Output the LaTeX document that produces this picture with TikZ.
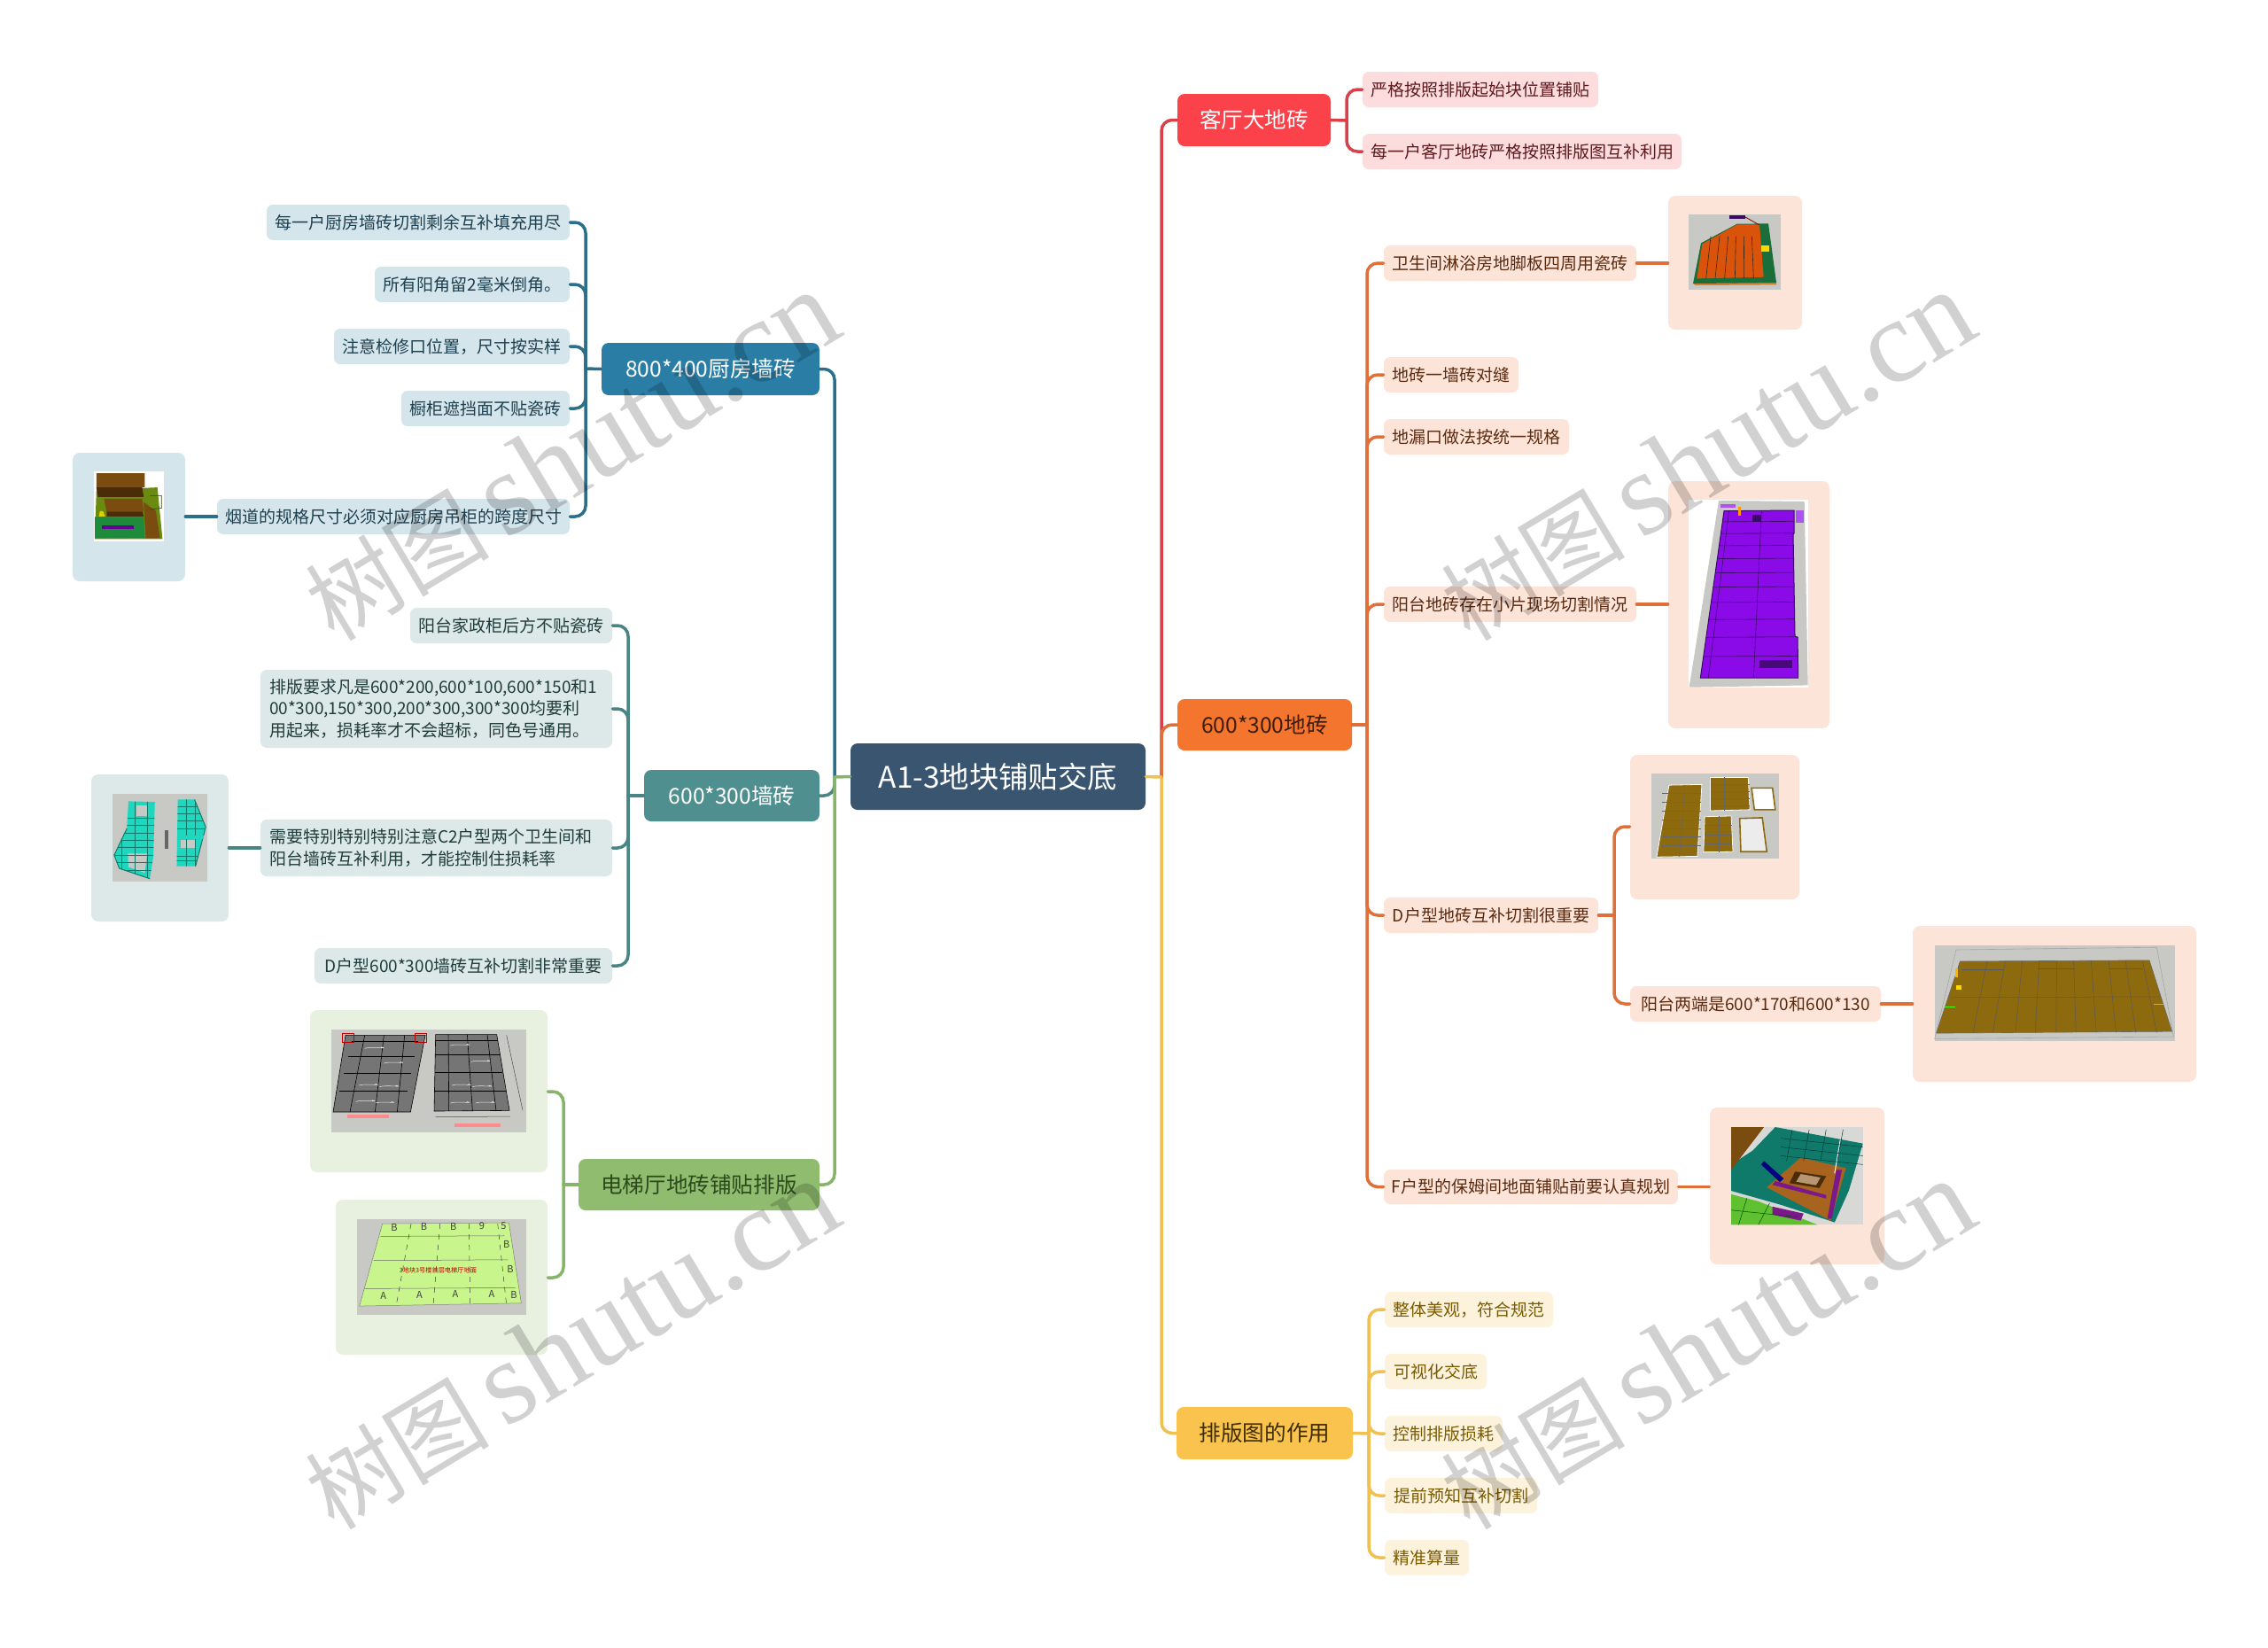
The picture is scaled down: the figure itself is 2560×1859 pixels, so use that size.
\documentclass[tikz,border=0pt]{standalone}
\usepackage{fontspec}
\setmainfont{Noto Sans CJK SC}
\newfontfamily\wmlatin{Liberation Serif}
\usetikzlibrary{calc}
\definecolor{rootc}{HTML}{3A5570}
\definecolor{kA}{HTML}{2A7EA6}\definecolor{kL}{HTML}{D5E5EC}\definecolor{kD}{HTML}{2B6F8A}\definecolor{kT}{HTML}{1D3F4E}
\definecolor{wA}{HTML}{4F8F8F}\definecolor{wL}{HTML}{DDE9E8}\definecolor{wD}{HTML}{4A8585}\definecolor{wT}{HTML}{1F3B3B}
\definecolor{eA}{HTML}{8FBC6F}\definecolor{eL}{HTML}{E8F0E0}\definecolor{eD}{HTML}{86B56A}\definecolor{eT}{HTML}{2C4A1C}
\definecolor{rA}{HTML}{FB4149}\definecolor{rL}{HTML}{FCDCDD}\definecolor{rD}{HTML}{D9414A}\definecolor{rT}{HTML}{5C1A1D}
\definecolor{oA}{HTML}{F4752E}\definecolor{oL}{HTML}{FDE4D8}\definecolor{oD}{HTML}{E0703A}\definecolor{oT}{HTML}{5A2A10}
\definecolor{yA}{HTML}{F9C34E}\definecolor{yL}{HTML}{FDF3DC}\definecolor{yD}{HTML}{F0C050}\definecolor{yT}{HTML}{7A5A00}
\definecolor{imgrey}{HTML}{C8C9C5}
\definecolor{tileB}{HTML}{8E6A0E}
\definecolor{tealB}{HTML}{1FD6BE}
\definecolor{tealD}{HTML}{0F7A6A}
\definecolor{purp}{HTML}{8A0AE8}
\definecolor{purpD}{HTML}{3C0A66}
\definecolor{shO}{HTML}{D9540A}
\definecolor{shG}{HTML}{1A6E3A}
\definecolor{flG}{HTML}{C8F58C}
\definecolor{marb}{HTML}{757575}
\definecolor{kBr}{HTML}{7A4C10}
\definecolor{kDk}{HTML}{4A2C08}
\definecolor{kOl}{HTML}{6A8A10}
\definecolor{kGr}{HTML}{1E8A3C}
\definecolor{rmO}{HTML}{A8641E}
\definecolor{rmP}{HTML}{7A1A8A}
\definecolor{rmG}{HTML}{5FC030}
\tikzset{
 x=0.5pt,y=-0.5pt,
 boxbase/.style={rectangle,rounded corners=4pt,inner sep=0pt,align=center},
 rootbox/.style={boxbase,fill=rootc,text=white,font=\fontsize{16.7}{20}\selectfont},
 mainbox/.style={boxbase,font=\fontsize{12.3}{15}\selectfont},
 leaf/.style={boxbase,rounded corners=3.5pt,font=\fontsize{9.5}{12.2}\selectfont},
 imgbox/.style={boxbase,rounded corners=4pt},
 conn/.style={line width=1.75pt,rounded corners=6pt,line cap=round},
 wm/.style={text=black,opacity=0.18,rotate=31,inner sep=0pt},
 zoomA/.style={x=0.287pt,y=-0.1667pt},
 zoomB/.style={x=0.1667pt,y=-0.1667pt},
 zoomC/.style={x=0.3189pt,y=-0.1977pt},
}
% placing a box from its left, top, right, bottom pixel edges
\newcommand{\bx}[6]{\node[#1,minimum width=(#5-#3)*0.5pt,minimum height=(#6-#4)*0.5pt] (#2) at ({(#3+#5)/2},{(#4+#6)/2})}
\begin{document}
\begin{tikzpicture}
\useasboundingbox (0,0) rectangle (2560,1859);
\fill[white] (0,0) rectangle (2560,1859);
% ---------- root and main topics
\bx{rootbox}{root}{960}{839}{1293}{914} {A1-3地块铺贴交底};
\bx{mainbox,fill=kA,text=white}{k}{679}{387}{925}{446} {800*400厨房墙砖};
\bx{mainbox,fill=wA,text=white}{w}{727}{869}{925}{927} {600*300墙砖};
\bx{mainbox,fill=eA,text=eT}{e}{653}{1308}{925}{1366} {电梯厅地砖铺贴排版};
\bx{mainbox,fill=rA,text=white}{r}{1329}{106}{1502}{165} {客厅大地砖};
\bx{mainbox,fill=oA,text=oT!70!black}{o}{1329}{789}{1526}{847} {600*300地砖};
\bx{mainbox,fill=yA,text=yT!50!black}{y}{1328}{1588}{1527}{1647} {排版图的作用};
% ---------- kitchen leaves
\bx{leaf,fill=kL,text=kT}{k1}{301}{231}{643}{271} {每一户厨房墙砖切割剩余互补填充用尽};
\bx{leaf,fill=kL,text=kT}{k2}{423}{301}{643}{341} {所有阳角留2毫米倒角。};
\bx{leaf,fill=kL,text=kT}{k3}{377}{371}{643}{411} {注意检修口位置，尺寸按实样};
\bx{leaf,fill=kL,text=kT}{k4}{453}{441}{643}{481} {橱柜遮挡面不贴瓷砖};
\bx{leaf,fill=kL,text=kT}{k5}{245}{563}{643}{603} {烟道的规格尺寸必须对应厨房吊柜的跨度尺寸};
\bx{imgbox,fill=kL}{ki}{82}{511}{209}{656} {};
% ---------- wall leaves
\bx{leaf,fill=wL,text=wT}{w1}{463}{686}{691}{726} {阳台家政柜后方不贴瓷砖};
\bx{leaf,fill=wL,text=wT,align=left,text width=188.5pt}{w2}{294}{756}{691}{844} {排版要求凡是600*200,600*100,600*150和1\\00*300,150*300,200*300,300*300均要利\\用起来，损耗率才不会超标，同色号通用。};
\bx{leaf,fill=wL,text=wT,align=left,text width=188.5pt}{w3}{294}{925}{691}{989} {需要特别特别特别注意C2户型两个卫生间和\\阳台墙砖互补利用，才能控制住损耗率};
\bx{leaf,fill=wL,text=wT}{w4}{355}{1070}{691}{1110} {D户型600*300墙砖互补切割非常重要};
\bx{imgbox,fill=wL}{wi}{103}{874}{258}{1040} {};
% ---------- elevator images
\bx{imgbox,fill=eL}{e1}{350}{1140}{618}{1323} {};
\bx{imgbox,fill=eL}{e2}{379}{1354}{618}{1529} {};
% ---------- living room leaves
\bx{leaf,fill=rL,text=rT}{r1}{1538}{81}{1804}{121} {严格按照排版起始块位置铺贴};
\bx{leaf,fill=rL,text=rT}{r2}{1538}{151}{1898}{191} {每一户客厅地砖严格按照排版图互补利用};
% ---------- floor leaves
\bx{leaf,fill=oL,text=oT}{o1}{1562}{277}{1847}{317} {卫生间淋浴房地脚板四周用瓷砖};
\bx{leaf,fill=oL,text=oT}{o2}{1562}{403}{1714}{443} {地砖一墙砖对缝};
\bx{leaf,fill=oL,text=oT}{o3}{1562}{473}{1771}{513} {地漏口做法按统一规格};
\bx{leaf,fill=oL,text=oT}{o4}{1562}{662}{1847}{702} {阳台地砖存在小片现场切割情况};
\bx{leaf,fill=oL,text=oT}{o5}{1562}{1013}{1804}{1053} {D户型地砖互补切割很重要};
\bx{leaf,fill=oL,text=oT}{o6}{1840}{1113}{2123}{1153} {阳台两端是600*170和600*130};
\bx{leaf,fill=oL,text=oT}{o7}{1562}{1320}{1894}{1359} {F户型的保姆间地面铺贴前要认真规划};
\bx{imgbox,fill=oL}{oi1}{1883}{221}{2034}{372} {};
\bx{imgbox,fill=oL}{oi4}{1883}{543}{2065}{822} {};
\bx{imgbox,fill=oL}{oi5}{1840}{852}{2031}{1015} {};
\bx{imgbox,fill=oL}{oi6}{2159}{1045}{2479}{1221} {};
\bx{imgbox,fill=oL}{oi7}{1930}{1250}{2127}{1427} {};
% ---------- layout leaves
\bx{leaf,fill=yL,text=yT}{y1}{1563}{1458}{1753}{1498} {整体美观，符合规范};
\bx{leaf,fill=yL,text=yT}{y2}{1563}{1528}{1678}{1568} {可视化交底};
\bx{leaf,fill=yL,text=yT}{y3}{1563}{1598}{1696}{1638} {控制排版损耗};
\bx{leaf,fill=yL,text=yT}{y4}{1563}{1668}{1735}{1708} {提前预知互补切割};
\bx{leaf,fill=yL,text=yT}{y5}{1563}{1738}{1658}{1778} {精准算量};
% ---------- bus points
\coordinate (tl) at (942,877);
\coordinate (tr) at (1311,877);
\coordinate (bk) at (661,416);
\coordinate (bw) at (709,898);
\coordinate (be) at (636,1337);
\coordinate (br) at (1520,136);
\coordinate (bo) at (1543,818);
\coordinate (by) at (1545,1618);
\coordinate (bo5) at (1822,1033);
% ---------- connectors
\draw[conn,wD] (w.east) -| (tl);
\draw[conn,kD] (k.east) -| (tl);
\draw[conn,eD] (e.east) -| (tl);
\draw[conn,eD] (root.west) -- (tl);
\draw[conn,rD] (r.west) -| (tr);
\draw[conn,yD] (y.west) -| (tr);
\draw[conn,oD] (o.west) -| (tr);
\draw[conn,yD] (root.east) -- (tr);
\foreach \n in {k1,k2,k3,k4,k5} \draw[conn,kD] (\n.east) -| (bk);
\draw[conn,kD] (k.west) -- (bk);
\draw[conn,kD] (k5.west) -- (ki.east |- k5.west);
\foreach \n in {w1,w2,w3,w4} \draw[conn,wD] (\n.east) -| (bw);
\draw[conn,wD] (w.west) -- (bw);
\draw[conn,wD] (w3.west) -- (wi.east |- w3.west);
\draw[conn,eD] (e1.east |- 0,1232) -| (be);
\draw[conn,eD] (e2.east |- 0,1442) -| (be);
\draw[conn,eD] (e.west) -- (be);
\foreach \n in {r1,r2} \draw[conn,rD] (\n.west) -| (br);
\draw[conn,rD] (r.east) -- (br);
\foreach \n in {o1,o2,o3,o4,o5,o7} \draw[conn,oD] (\n.west) -| (bo);
\draw[conn,oD] (o.east) -- (bo);
\draw[conn,oD] (o1.east) -- (oi1.west |- o1.east);
\draw[conn,oD] (o4.east) -- (oi4.west |- o4.east);
\draw[conn,oD] (o7.east) -- (oi7.west |- o7.east);
\draw[conn,oD] (o6.east) -- (oi6.west |- o6.east);
\draw[conn,oD] (o5.east) -- (bo5);
\draw[conn,oD] (oi5.west |- 0,933) -| (bo5);
\draw[conn,oD] (o6.west) -| (bo5);
\foreach \n in {y1,y2,y3,y4,y5} \draw[conn,yD] (\n.west) -| (by);
\draw[conn,yD] (y.east) -- (by);
% ---------- picture A: kitchen model (zoom 1 units)
\begin{scope}[shift={(60,200)},zoomA]
 \fill[white] (80,995) rectangle (217,1232);
 \fill[kOl] (85,1060) -- (205,1050) -- (215,1225) -- (82,1225) -- cycle;
 \fill[kBr] (85,1002) -- (180,1002) -- (180,1050) -- (85,1052) -- cycle;
 \fill[kDk] (85,1050) -- (175,1050) -- (178,1082) -- (88,1082) -- cycle;
 \fill[kBr] (100,1088) -- (175,1088) -- (178,1132) -- (105,1132) -- cycle;
 \fill[kDk] (105,1132) -- (176,1132) -- (178,1148) -- (105,1148) -- cycle;
 \fill[kGr] (82,1150) -- (178,1150) -- (180,1220) -- (82,1222) -- cycle;
 \fill[kBr] (178,1100) -- (202,1130) -- (210,1222) -- (182,1222) -- cycle;
 \fill[yellow!70!olive] (92,1130) -- (98,1130) -- (102,1148) -- (90,1148) -- cycle;
 \fill[blue!60!red] (95,1180) rectangle (158,1192);
 \draw[kOl!50!black,line width=.3pt] (190,1078) -- (213,1078) -- (213,1120) -- (190,1125);
\end{scope}
% ---------- picture B: teal walls (zoom 2 units)
\begin{scope}[shift={(60,670)},zoomA]
 \fill[imgrey] (117,678) rectangle (303,975);
 \fill[tealB] (148,703) -- (200,705) -- (197,890) -- (190,965) -- (130,930) -- (120,885) -- (145,795) -- cycle;
 \fill[tealB] (245,697) -- (278,697) -- (300,790) -- (280,923) -- (243,923) -- cycle;
 \fill[imgrey] (163,718) rectangle (187,752);
 \fill[imgrey] (147,880) -- (185,880) -- (180,945) -- (148,925) -- cycle;
 \fill[imgrey] (250,835) rectangle (278,862);
 \begin{scope}
  \clip (148,703) -- (200,705) -- (197,890) -- (190,965) -- (130,930) -- (120,885) -- (145,795) -- cycle;
  \foreach \yy in {760,785,810,835,860,885,910,935} \draw[tealD,line width=.25pt] (110,\yy) -- (210,\yy);
  \foreach \xx in {135,160,185} \draw[tealD,line width=.25pt] (\xx,700) -- (\xx,970);
 \end{scope}
 \begin{scope}
  \clip (245,697) -- (278,697) -- (300,790) -- (280,923) -- (243,923) -- cycle;
  \foreach \yy in {720,745,770,795,890,905} \draw[tealD,line width=.25pt] (240,\yy) -- (305,\yy);
  \foreach \xx in {262,280} \draw[tealD,line width=.25pt] (\xx,690) -- (\xx,930);
 \end{scope}
 \draw[tealD,line width=.5pt] (278,697) -- (300,790) -- (280,923);
 \draw[tealD,line width=.5pt] (145,795) -- (120,885) -- (130,930) -- (190,965);
 \fill[tealB] (250,820) rectangle (297,832);
 \fill[black!60] (219,800) rectangle (227,865);
\end{scope}
% ---------- picture C: shower room (zoom 6 units)
\begin{scope}[shift={(1880,220)},zoomB]
 \fill[imgrey] (79,67) rectangle (390,320);
 \fill[brown!70!orange] (95,300) -- (375,295) -- (375,304) -- (100,306) -- cycle;
 \fill[shG] (120,163) -- (242,98) -- (348,97) -- (375,297) -- (93,300) -- cycle;
 \fill[shO] (124,166) -- (243,100) -- (318,100) -- (332,278) -- (106,283) -- cycle;
 \foreach \a/\b in {153/137,183/168,212/200,238/235,265/266,292/298} \draw[black!70!brown,line width=.3pt] (\a,140) -- (\b,282);
 \fill[yellow!75!orange] (325,170) rectangle (352,192);
 \fill[purpD] (217,70) rectangle (270,81);
 \draw[red!50!black,line width=.4pt] (270,75) -- (318,102);
\end{scope}
% ---------- picture D: balcony purple (zoom 7 units)
\begin{scope}[shift={(1880,540)},zoomB]
 \fill[white] (79,72) rectangle (482,707);
 \fill[imgrey] (180,75) -- (470,78) -- (482,700) -- (80,707) -- cycle;
 \path[fill=purp,draw=purpD,line width=.5pt] (198,110) -- (435,108) -- (435,185) -- (432,190) -- (438,535) -- (447,537) -- (449,675) -- (118,675) -- cycle;
 \begin{scope}
  \clip (198,110) -- (435,108) -- (435,185) -- (432,190) -- (438,535) -- (447,537) -- (449,675) -- (118,675) -- cycle;
  \foreach \yy in {147,187,228,272,320,368,420,478,538,603} \draw[purpD,line width=.3pt] (100,\yy) -- (460,\yy-2);
  \draw[purpD,line width=.3pt] (325,108) -- (298,675);
  \draw[purpD,line width=.3pt] (215,108) -- (145,675);
 \end{scope}
 \fill[orange!80!yellow] (246,95) rectangle (256,125);
 \fill[purpD] (295,124) rectangle (325,147);
 \fill[purpD!85!purp] (318,615) rectangle (430,642);
 \fill[purp!70!white] (186,88) rectangle (236,100);
 \fill[purp!70!white] (442,108) rectangle (468,150);
\end{scope}
% ---------- picture E: four brown floors (zoom 4 units)
\begin{scope}[shift={(1500,830)},zoomC]
 \fill[imgrey] (571,109) rectangle (797,352);
 \tikzset{bt/.style={fill=tileB,draw=white,line width=.4pt}}
 \path[bt] (602,142) -- (660,140) -- (652,345) -- (580,347) -- cycle;
 \path[bt] (675,120) -- (742,120) -- (745,212) -- (675,215) -- cycle;
 \path[bt] (665,232) -- (712,230) -- (715,332) -- (663,333) -- cycle;
 \path[fill=white,draw=tileB,line width=.8pt] (748,150) -- (785,150) -- (790,212) -- (753,212) -- cycle;
 \path[fill=white!85!gray,draw=tileB,line width=.8pt] (727,237) -- (767,235) -- (775,332) -- (729,332) -- cycle;
 \foreach \yy in {165,190,215,240,265,290,315} \draw[black!60,line width=.25pt] (590,\yy) -- (658,\yy);
 \draw[black!60,line width=.25pt] (630,141) -- (620,346);
 \foreach \yy in {140,160,180,200} \draw[black!60,line width=.25pt] (675,\yy) -- (744,\yy);
 \draw[black!60,line width=.25pt] (700,120) -- (700,214);
 \foreach \yy in {255,285,310} \draw[black!60,line width=.25pt] (664,\yy) -- (714,\yy);
 \draw[black!60,line width=.25pt] (690,231) -- (690,333);
\end{scope}
% ---------- picture F: balcony brown (zoom 4 units)
\begin{scope}[shift={(1500,830)},zoomC]
 \fill[imgrey] (1072,599) rectangle (1497,872);
 \draw[gray!70,line width=.3pt] (1110,612) -- (1465,605) -- (1495,860) -- (1072,866) -- cycle;
 \path[fill=tileB,draw=black!60,line width=.3pt] (1117,645) -- (1452,642) -- (1492,845) -- (1075,850) -- cycle;
 \foreach \a/\b in {1165/1140,1197/1175,1227/1215,1257/1250,1288/1287,1318/1322,1349/1358,1380/1393,1410/1428,1440/1465} \draw[black!65,line width=.25pt] (\a,644) -- (\b,848);
 \draw[black!65,line width=.25pt] (1100,748) -- (1472,746);
 \draw[black!65,line width=.25pt] (1120,668) -- (1195,668);
 \draw[black!65,line width=.25pt] (1255,666) -- (1320,666);
 \draw[black!65,line width=.25pt] (1380,666) -- (1440,666);
 \fill[orange!60!yellow] (1108,665) rectangle (1113,690);
 \fill[yellow!75!orange] (1110,712) rectangle (1120,727);
 \fill[green!70!yellow] (1090,773) rectangle (1108,777);
 \fill[green!70!yellow] (1460,766) rectangle (1478,770);
\end{scope}
% ---------- picture G: nanny room (zoom 4 units)
\begin{scope}[shift={(1500,830)},zoomC]
 \fill[imgrey!70!white] (712,1118) rectangle (945,1397);
 \fill[rmG] (712,1310) -- (760,1330) -- (865,1397) -- (712,1397) -- cycle;
 \fill[tealD] (750,1185) -- (790,1118) -- (945,1165) -- (920,1300) -- (895,1390) -- (800,1340) -- (712,1300) -- (712,1225) -- cycle;
 \fill[kBr] (712,1118) -- (770,1118) -- (712,1240) -- cycle;
 \fill[rmO] (775,1290) -- (835,1205) -- (915,1235) -- (888,1385) -- cycle;
 \fill[kDk] (825,1245) -- (880,1258) -- (868,1292) -- (815,1278) -- cycle;
 \fill[rmO!50!imgrey] (835,1252) -- (870,1262) -- (862,1284) -- (827,1274) -- cycle;
 \fill[rmP] (790,1272) -- (880,1312) -- (880,1322) -- (785,1283) -- cycle;
 \fill[rmP] (898,1240) -- (908,1240) -- (890,1380) -- (882,1380) -- cycle;
 \fill[rmP] (785,1345) -- (840,1365) -- (835,1385) -- (785,1368) -- cycle;
 \fill[blue!50!black] (770,1215) -- (805,1265) -- (798,1275) -- (765,1225) -- cycle;
 \draw[white,line width=.5pt] (905,1155) -- (895,1250);
 \foreach \a in {820,850,880,910} \draw[black!55!teal,line width=.25pt] (\a,1125) -- (\a-10,1215);
 \foreach \a in {1150,1175,1200} \draw[black!55!teal,line width=.25pt] (800,\a) -- (945,\a+25);
 \draw[green!30!black,line width=.25pt] (740,1320) -- (725,1397);
 \draw[green!30!black,line width=.25pt] (780,1335) -- (760,1397);
 \draw[green!30!black,line width=.25pt] (712,1355) -- (830,1375);
\end{scope}
% ---------- picture H: grey marble (zoom 5 units)
\begin{scope}[shift={(340,1130)},zoomB]
 \fill[imgrey] (103,95) rectangle (762,443);
 \path[fill=marb,draw=black,line width=.3pt] (150,115) -- (420,115) -- (370,375) -- (108,375) -- cycle;
 \path[fill=marb,draw=black,line width=.3pt] (455,113) -- (662,113) -- (705,370) -- (450,372) -- cycle;
 \foreach \yy/\l/\r in {137/170/395,187/160/385,245/145/372,305/130/360} \draw[black,line width=.3pt] (\l,\yy) -- (\r,\yy);
 \foreach \a/\b in {215/165,280/250,350/325} \draw[black,line width=.3pt] (\a,115) -- (\b,375);
 \foreach \yy/\r in {133/665,182/672,240/682,303/692} \draw[black,line width=.3pt] (453,\yy) -- (\r,\yy);
 \foreach \a/\b in {498/500,562/580,630/660} \draw[black,line width=.3pt] (\a,113) -- (\b,372);
 \foreach \px/\py in {215/160,280/210,195/285,265/290,185/340,250/345,505/150,575/205,510/285,580/290,505/345,590/345}
  \draw[white!85!gray,line width=.25pt] (\px,\py) .. controls +(20,-8) and +(35,8) .. +(55,-5);
 \draw[red!75!black,line width=.5pt] (140,110) rectangle (178,140);
 \draw[red!75!black,line width=.5pt] (385,108) rectangle (425,138);
 \fill[red!45!white] (155,385) rectangle (298,397);
 \fill[red!45!white] (520,415) rectangle (676,427);
 \draw[gray!60!black,line width=.25pt] (455,392) -- (708,390);
 \draw[gray!60!black,line width=.25pt] (695,115) -- (750,370);
\end{scope}
% ---------- picture I: green floor (zoom 5 units)
\begin{scope}[shift={(340,1130)},zoomB]
 \fill[imgrey] (190,737) rectangle (762,1062);
 \path[fill=flG,draw=black!50,line width=.25pt] (275,753) -- (703,750) -- (745,1022) -- (197,1032) -- cycle;
 \draw[black!60,line width=.25pt] (268,796) -- (688,794);
 \draw[black!60,line width=.25pt] (245,878) -- (700,875);
 \draw[black!60,line width=.25pt] (215,973) -- (725,970);
 \foreach \a/\b in {372/322,470/447,568/572,665/695} \draw[black!75,dashed,line width=.25pt] (\a,753) -- (\b,1028);
 \foreach \xx/\yy/\s in {315/765/B,415/762/B,515/762/B,612/760/9,685/762/5,695/822/B,708/908/B,720/995/B,278/996/A,400/994/A,522/992/A,645/992/A} \node[font=\fontsize{5.5}{6}\selectfont,text=black!75,inner sep=0pt] (lab\xx\yy) at (\xx,\yy) {\s};
 \node[font=\fontsize{3.6}{4}\selectfont,text=red!75!black,inner sep=0pt] (lab0) at (463,912) {3地块3号楼首层电梯厅地面};
\end{scope}
% ---------- watermarks
\foreach \cx/\cy [count=\i] in {645/515,1927/515,645/1518,1927/1518}
 \node[wm] (wm\i) at (\cx,\cy) {\fontsize{52}{70}\selectfont 树图\,\fontsize{67}{70}\selectfont{\wmlatin shutu.cn}};
\end{tikzpicture}
\end{document}
